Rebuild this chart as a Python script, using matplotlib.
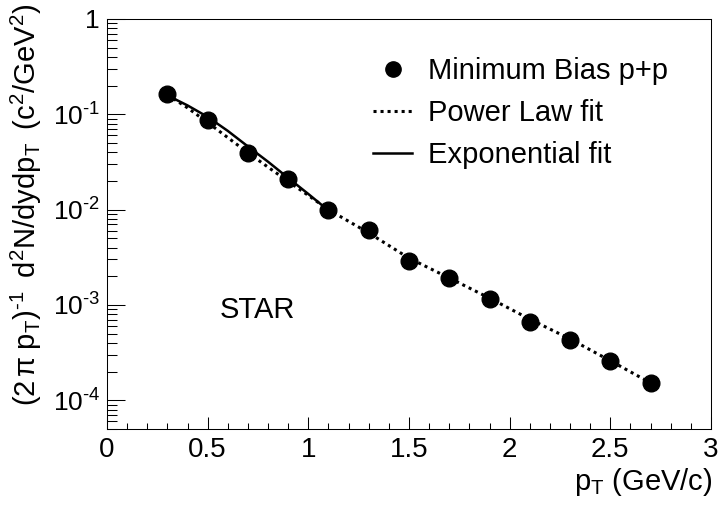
import matplotlib
matplotlib.use("Agg")
import matplotlib.pyplot as plt
from matplotlib.ticker import FixedLocator, NullFormatter, MultipleLocator
from matplotlib.lines import Line2D

plt.rcParams['font.family'] = ['Liberation Sans', 'DejaVu Sans']
plt.rcParams['mathtext.fontset'] = 'custom'
plt.rcParams['mathtext.rm'] = 'Liberation Sans'
plt.rcParams['mathtext.it'] = 'Liberation Sans'
plt.rcParams['mathtext.default'] = 'regular'

# data points
pt = [0.3, 0.5, 0.7, 0.9, 1.1, 1.3, 1.5, 1.7, 1.9, 2.1, 2.3, 2.5, 2.7]
yield_pp = [0.162, 0.088, 0.0396, 0.0211, 0.0100, 0.00605, 0.00286,
            0.00192, 0.00115, 0.00066, 0.00043, 0.00026, 0.000151]

# power-law fit curve
pl_pt = [0.3, 0.4, 0.5, 0.6, 0.7, 0.8, 0.9, 1.0, 1.1, 1.3, 1.5, 1.7, 1.9, 2.1, 2.3, 2.5, 2.7]
pl_val = [0.160, 0.117, 0.082, 0.057, 0.0395, 0.0279, 0.0198, 0.0141, 0.0100,
          0.0057, 0.00310, 0.00192, 0.00118, 0.00071, 0.00044, 0.00026, 0.000152]

# exponential fit curve
ex_pt = [0.3, 0.4, 0.5, 0.6, 0.7, 0.8, 0.9, 1.0, 1.1]
ex_val = [0.158, 0.124, 0.094, 0.067, 0.046, 0.0318, 0.0215, 0.0146, 0.0098]

y_ticks = [1e-4, 1e-3, 1e-2, 1e-1, 1]
y_ticklabels = ['$10^{\u2010 4}$', '$10^{\u2010 3}$', '$10^{\u2010 2}$', '$10^{\u2010 1}$', '1']
x_ticks = [0, 0.5, 1, 1.5, 2, 2.5, 3]
x_ticklabels = ['0', '0.5', '1', '1.5', '2', '2.5', '3']

fig = plt.figure(figsize=(7.21, 5.09), dpi=100)
ax = fig.add_axes([107/721, 80/509, 604/721, 410/509])

ax.plot(pl_pt, pl_val, color='black', lw=2.2, linestyle=(0, (1, 1.3)))
ax.plot(ex_pt, ex_val, color='black', lw=1.8, linestyle='-')
ax.plot(pt, yield_pp, 'o', color='black', markersize=12, linestyle='none')

ax.set_yscale('log')
ax.set_xlim(0, 3)
ax.set_ylim(5e-5, 1)

ax.yaxis.set_major_locator(FixedLocator(y_ticks))
ax.set_yticklabels(y_ticklabels)
minor = []
for e in range(-5, 0):
    for k in range(2, 10):
        v = k * 10.0**e
        if 5e-5 <= v <= 1:
            minor.append(v)
ax.yaxis.set_minor_locator(FixedLocator(minor))
ax.yaxis.set_minor_formatter(NullFormatter())

ax.set_xticks(x_ticks)
ax.set_xticklabels(x_ticklabels)
ax.xaxis.set_minor_locator(MultipleLocator(0.1))

ax.tick_params(axis='both', which='both', direction='in', top=False, right=False,
               width=0.75, labelsize=20)
ax.tick_params(axis='y', which='major', length=13, pad=5, labelsize=19)
ax.tick_params(axis='y', which='minor', length=7)
ax.tick_params(axis='x', which='major', length=9, pad=6)
ax.tick_params(axis='x', which='minor', length=4.5)
for s in ax.spines.values():
    s.set_linewidth(0.75)

ax.text(0.561, 8.9e-4, 'STAR', fontsize=21, ha='left', va='center')

fig.text(712/721, 1 - 466/509, r'$p_{T}$ (GeV/c)', fontsize=21, ha='right', va='top')
fig.text(26/721, 1 - 4/509,
         '$(2\\,\\pi\\; p_{T})^{\u2010 1}\\;\\; d^{2}N/dydp_{T}\\;\\; (c^{2}/GeV^{2})$',
         fontsize=21, rotation=90, ha='center', va='top')

handles = [Line2D([], [], marker='o', color='black', linestyle='none', markersize=11),
           Line2D([], [], color='black', lw=2.2, linestyle=(0, (1, 1.3))),
           Line2D([], [], color='black', lw=1.8)]
labels = ['Minimum Bias p+p', 'Power Law fit', 'Exponential fit']
ax.legend(handles, labels, loc='upper left', bbox_to_anchor=((373 - 107) / 604, (429 - 57) / 410),
          frameon=False, fontsize=21, borderpad=0, borderaxespad=0, handlelength=1.35,
          handletextpad=0.55, labelspacing=0.48)

fig.savefig('out.png', dpi=100)
